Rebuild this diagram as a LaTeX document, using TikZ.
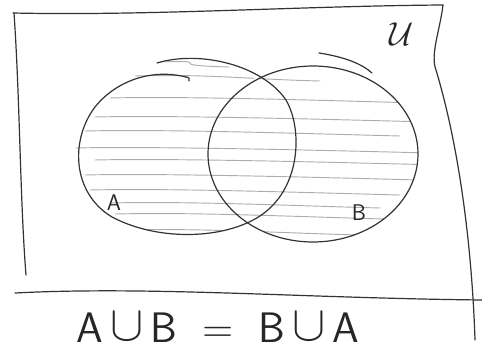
\documentclass[tikz,border=0pt]{standalone}
\usepackage{graphicx}
\usetikzlibrary{shapes.geometric}
\newcommand{\bigcupsym}{\raisebox{0.05em}{\scalebox{1.5}{$\cup$}}}
\begin{document}
\begin{tikzpicture}[x=0.75pt,y=-0.75pt,
  pen/.style={draw=black!80,line width=0.9pt,line cap=round,line join=round},
  hatch/.style={draw=black!32,line width=0.7pt,line cap=round},
  lbl/.style={font=\sffamily\fontsize{17}{19}\selectfont,text=black!85},
  eq/.style={font=\sffamily\fontsize{32}{34}\selectfont,text=black!85}]
\useasboundingbox (0,0) rectangle (482,357);
% universe frame
\draw[pen] (13,13) .. controls (150,16) and (300,6) .. (443,5);
\draw[pen] (14,13) .. controls (20,100) and (20,200) .. (26,275);
\draw[pen] (443,5) .. controls (440,30) and (430,55) .. (436,70) .. controls (460,150) and (472,250) .. (475,340);
\draw[pen] (15,293) .. controls (150,286) and (300,298) .. (482,300);
% sets
\coordinate (cB) at (313,154);
\def\pathA{(157,63) .. controls (200,50) and (262,65) .. (286,100) .. controls (302,128) and (300,178) .. (272,206) .. controls (242,238) and (165,245) .. (112,217) .. controls (72,193) and (70,140) .. (95,107) .. controls (115,82) and (150,68) .. (186,77)}
\begin{scope}
  \clip (186,148) ellipse [x radius=110, y radius=88] (cB) ellipse [x radius=105, y radius=88];
  \foreach \y/\a/\b in {62/150/230,76/135/320,98/110/420,117/95/430,131/85/400,148/75/430,160/95/440,175/85/420,190/90/400,203/110/380,214/115/385,230/120/360}{
    \draw[hatch] (\a,\y) .. controls (\a+80,\y-2) and (\b-80,\y+3) .. (\b,\y+5);
  }
\end{scope}
\draw[pen] \pathA;
\draw[pen] (186,77) .. controls (189,77) and (190,79) .. (189,81);
\draw[pen] (cB) ellipse [x radius=105, y radius=88];
\draw[pen] (319,53) .. controls (345,57) and (362,64) .. (372,73);
% labels
\node[lbl] (la) at (114,203) {A};
\node[lbl] (lb) at (359,213) {B};
\node[lbl,font=\fontsize{26}{28}\selectfont] (lu) at (402,34) {$\mathcal{U}$};
\node[eq] (eqn) at (218,328) {A\,\bigcupsym\,B\; =\; B\,\bigcupsym\,A};
\end{tikzpicture}
\end{document}
